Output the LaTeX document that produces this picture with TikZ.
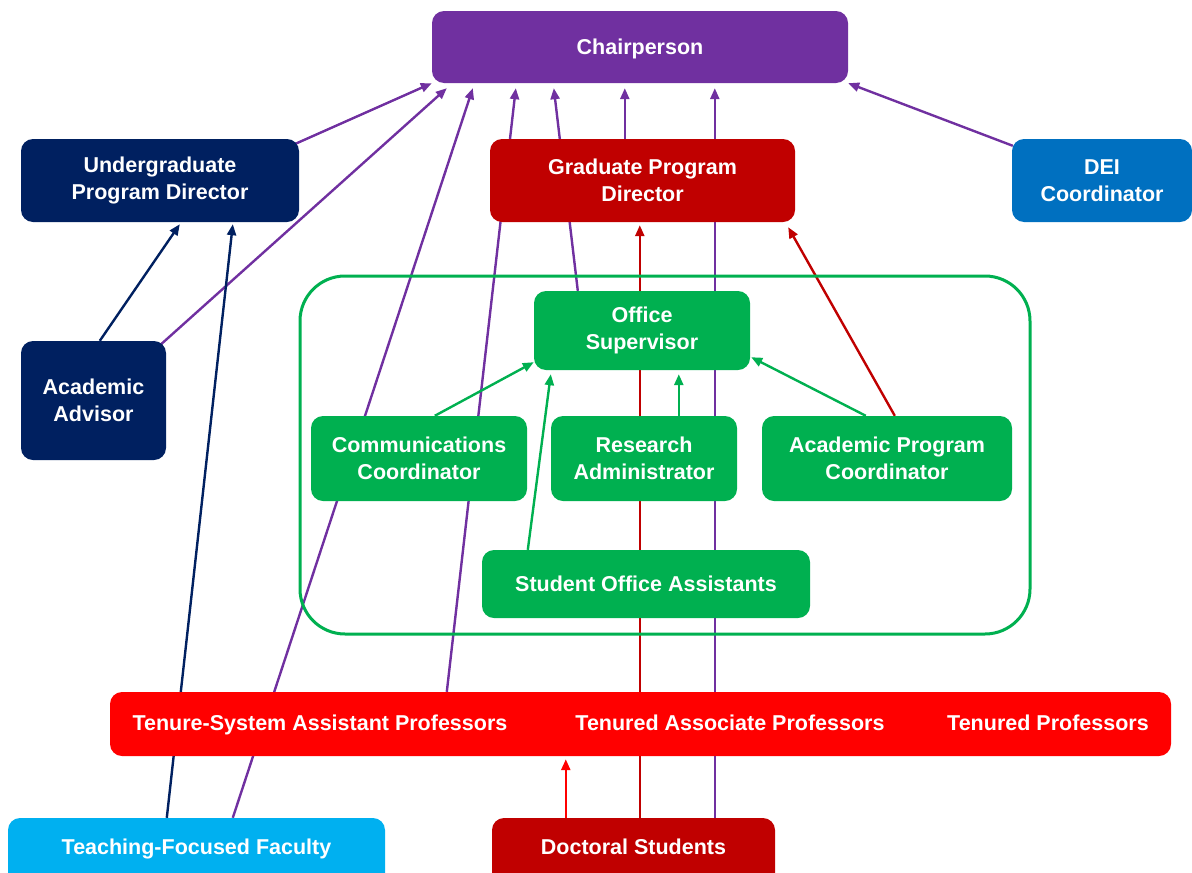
\documentclass[tikz,border=0pt]{standalone}
\usepackage{fontspec}
\setmainfont{Liberation Sans}
\usetikzlibrary{arrows.meta}
\usetikzlibrary{backgrounds}
\definecolor{chairpurple}{HTML}{7030A0}
\definecolor{undernavy}{HTML}{002060}
\definecolor{gradred}{HTML}{C00000}
\definecolor{deiblue}{HTML}{0070C0}
\definecolor{staffgreen}{HTML}{00B050}
\definecolor{facultyred}{HTML}{FF0000}
\definecolor{teachblue}{HTML}{00B0F0}
\tikzset{
  >={Triangle[length=11pt,width=9pt]},
  x=1pt, y=-1pt,
  box/.style={rounded corners=12pt, align=center, text=white, inner sep=0pt,
    font=\fontsize{21.5}{26.5}\selectfont\bfseries},
  single/.style={text height=15.5pt, text depth=0pt},
  cutoff/.style={text height=36pt, text depth=34pt, minimum height=0pt},
  caption/.style={text=white, inner sep=0pt, text height=15.5pt, text depth=0pt,
    font=\fontsize{21.5}{26.5}\selectfont\bfseries},
  container/.style={draw=staffgreen, line width=3pt, rounded corners=45pt},
  tochair/.style={->, draw=chairpurple, line width=2.4pt},
  toupd/.style={->, draw=undernavy, line width=2.4pt},
  togpd/.style={->, draw=gradred, line width=2.4pt},
  tooffice/.style={->, draw=staffgreen, line width=2.4pt},
  totenure/.style={->, draw=facultyred, line width=2.4pt},
}

\begin{document}
\begin{tikzpicture}
  \useasboundingbox (0,0) rectangle (1192,873);
  \clip (0,0) rectangle (1192,873);

  % top level
  \node[box, single, fill=chairpurple, minimum width=416pt, minimum height=72pt] (chair) at (640,47) {Chairperson};
  \node[box, fill=undernavy, minimum width=278pt, minimum height=83pt] (upd) at (160,180.5) {Undergraduate\\Program Director};
  \node[box, fill=gradred, minimum width=305pt, minimum height=83pt] (gpd) at (642.5,180.5) {Graduate Program\\Director};
  \node[box, fill=deiblue, minimum width=180pt, minimum height=83pt] (dei) at (1102,180.5) {DEI\\Coordinator};
  \node[box, fill=undernavy, minimum width=145pt, minimum height=119pt] (adv) at (93.5,400.5) {Academic\\Advisor};

  % staff group
  \node[container, minimum width=730pt, minimum height=358pt] (staff) at (665,455) {};
  \node[box, fill=staffgreen, minimum width=216pt, minimum height=79pt] (office) at (642,330.5) {Office\\Supervisor};
  \node[box, fill=staffgreen, minimum width=216pt, minimum height=85pt] (comm) at (419,458.5) {Communications\\Coordinator};
  \node[box, fill=staffgreen, minimum width=186pt, minimum height=85pt] (research) at (644,458.5) {Research\\Administrator};
  \node[box, fill=staffgreen, minimum width=250pt, minimum height=85pt] (apc) at (887,458.5) {Academic Program\\Coordinator};
  \node[box, single, fill=staffgreen, minimum width=328pt, minimum height=68pt] (soa) at (646,584) {Student Office Assistants};

  % faculty
  \node[box, fill=facultyred, minimum width=1061pt, minimum height=64pt] (tenure) at (640.5,724) {};
  \node[caption] (assistant) at (320,723) {Tenure-System Assistant Professors};
  \node[caption] (associate) at (730,723) {Tenured Associate Professors};
  \node[caption] (full) at (1048,723) {Tenured Professors};
  \node[box, cutoff, fill=teachblue, minimum width=377pt] (tff) at (196.5,853) {Teaching-Focused Faculty};
  \node[box, cutoff, fill=gradred, minimum width=283pt] (doc) at (633.5,853) {Doctoral Students};

  \begin{scope}[on background layer]
    % to chairperson
    \draw[tochair] ([shift={(-6,6)}]upd.north east) -- (chair.south west);
    \draw[tochair] ([shift={(-8,6)}]adv.north east) -- ([shift={(15,5)}]chair.south west);
    \draw[tochair] ([shift={(225,0)}]tff.north west) -- ([shift={(41,5)}]chair.south west);
    \draw[tochair] ([shift={(337,0)}]tenure.north west) -- ([shift={(84,5)}]chair.south west);
    \draw[tochair] ([shift={(44,0)}]office.north west) -- ([shift={(122,5)}]chair.south west);
    \draw[tochair] ([shift={(135,0)}]gpd.north west) -- ([shift={(193,5)}]chair.south west);
    \draw[tochair] ([shift={(223,0)}]doc.north west) -- ([shift={(283,5)}]chair.south west);
    \draw[tochair] ([shift={(1,7)}]dei.north west) -- (chair.south east);
    % to undergraduate director
    \draw[toupd] ([shift={(79,0)}]adv.north west) -- ([shift={(159,2)}]upd.south west);
    \draw[toupd] ([shift={(159,0)}]tff.north west) -- ([shift={(212,2)}]upd.south west);
    % to graduate director
    \draw[togpd] ([shift={(148,0)}]doc.north west) -- ([shift={(150,3)}]gpd.south west);
    \draw[togpd] ([shift={(133,0)}]apc.north west) -- ([shift={(-7,5)}]gpd.south east);
    % to office supervisor
    \draw[tooffice] ([shift={(124,0)}]comm.north west) -- ([shift={(0,-8)}]office.south west);
    \draw[tooffice] ([shift={(46,0)}]soa.north west) -- ([shift={(17,4)}]office.south west);
    \draw[tooffice] ([shift={(128,0)}]research.north west) -- ([shift={(145,4)}]office.south west);
    \draw[tooffice] ([shift={(104,0)}]apc.north west) -- ([shift={(1,-13)}]office.south east);
    % to tenure system faculty
    \draw[totenure] ([shift={(74,0)}]doc.north west) -- ([shift={(456,3)}]tenure.south west);
  \end{scope}
\end{tikzpicture}
\end{document}
